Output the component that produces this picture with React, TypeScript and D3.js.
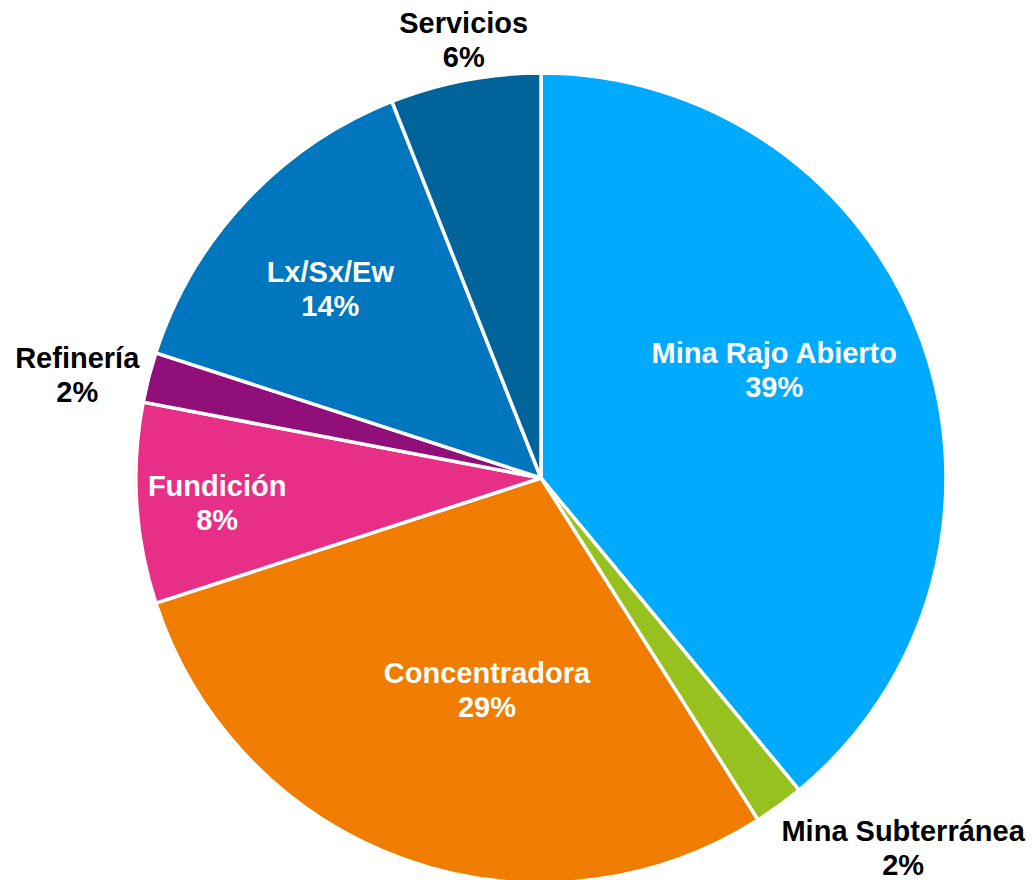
import React from "react";
import * as d3 from "d3";

const categories = ["Mina Rajo Abierto", "Mina Subterránea", "Concentradora", "Fundición", "Refinería", "Lx/Sx/Ew", "Servicios"];
const values = [39, 2, 29, 8, 2, 14, 6];
const colors = ["#00AAFF", "#96C11F", "#F07D00", "#E72F88", "#900F78", "#0076BE", "#00649A"];
const labelColors = ["#fff", "#000", "#fff", "#fff", "#000", "#fff", "#000"];
// label placement: [angle in degrees clockwise from top, radius as fraction of pie radius]
const labelAngles = [65.1, 135.6, 194.3, 265.6, 282.5, 311.9, 350];
const labelRadii = [0.635, 1.278, 0.54, 0.802, 1.173, 0.699, 1.099];

const W = 1034, H = 880;
const cx = 541, cy = 478, R = 405;

export default function App() {
  const pie = d3.pie<number>().sort(null).value((d) => d)(values);
  const arc = d3.arc<d3.PieArcDatum<number>>().innerRadius(0).outerRadius(R);
  const total = d3.sum(values);
  return (
    <svg width={W} height={H} style={{ position: "absolute", left: 0, top: 0, background: "#fff" }}>
      <g transform={`translate(${cx},${cy})`}>
        {pie.map((p, i) => (
          <path key={i} d={arc(p) || ""} fill={colors[i]} stroke="#fff" strokeWidth={3.5} strokeLinejoin="round" />
        ))}
        {pie.map((p, i) => {
          const a = (labelAngles[i] * Math.PI) / 180;
          const r = labelRadii[i] * R;
          const x = r * Math.sin(a);
          const y = -r * Math.cos(a);
          return (
            <text key={i} x={x} y={y} textAnchor="middle" fill={labelColors[i]}
              style={{ font: "bold 29px 'Liberation Sans', Arial, sans-serif" }}>
              <tspan x={x} y={y - 17} dominantBaseline="central">{categories[i]}</tspan>
              <tspan x={x} y={y + 17} dominantBaseline="central">{Math.round((values[i] / total) * 100)}%</tspan>
            </text>
          );
        })}
      </g>
    </svg>
  );
}
